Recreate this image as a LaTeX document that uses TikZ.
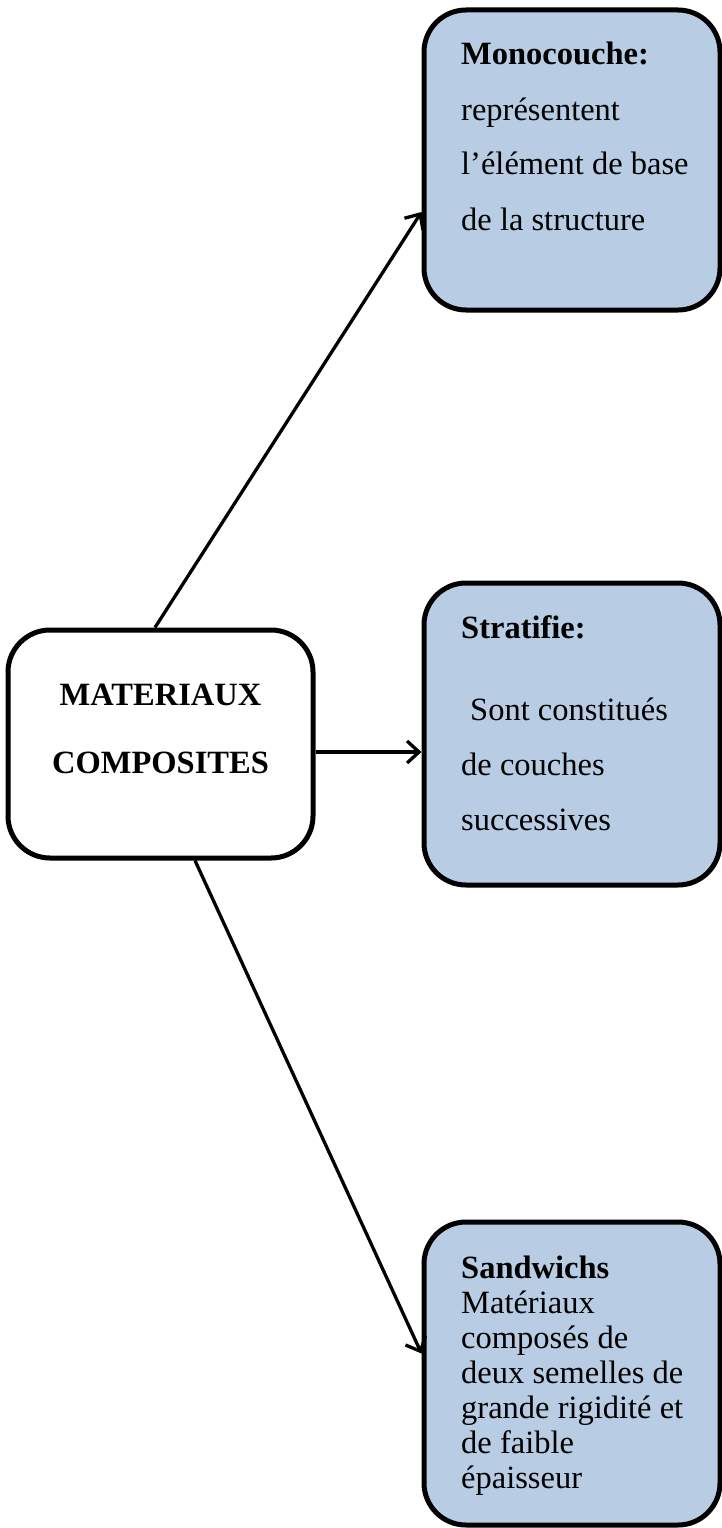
\documentclass[tikz,border=0pt]{standalone}
\usepackage{fontspec}
\setmainfont{Liberation Serif}
\usetikzlibrary{arrows.meta}
\definecolor{boxblue}{HTML}{B8CCE4}
\begin{document}
\begin{tikzpicture}[x=1pt,y=-1pt,
  panel/.style={draw, line width=5pt, rounded corners=42pt, inner sep=0pt},
  leaf/.style={panel, fill=boxblue, minimum width=296pt},
  link/.style={line width=3.3pt, -{Straight Barb[length=12pt,width=22pt,line width=3.3pt]}},
  body/.style={anchor=base west, inner sep=0pt}
]
\useasboundingbox (0,0) rectangle (722,1528);

% central box
\node[panel, fill=white, minimum width=305pt, minimum height=228pt] (mat) at (160.5,744) {};

% the three families
\node[leaf, minimum height=300pt] (mono)  at (572,160) {};
\node[leaf, minimum height=302pt] (strat) at (572,734) {};
\node[leaf, minimum height=303pt] (sand)  at (572,1373.5) {};

% box texts
\node[anchor=base, inner sep=0pt] (mattext) at (160.5,705)
  {\parbox[t]{300pt}{\centering\fontsize{32.5}{68}\selectfont
   \textbf{MATERIAUX}\\\textbf{COMPOSITES}}};

\node[body] (monotext) at (461,65)
  {\parbox[t]{258pt}{\raggedright\fontsize{32.5}{55}\selectfont
   \textbf{Monocouche:}\\représentent\\l’élément de base\\de la structure}};

\node[body] (strattext) at (461,638)
  {\parbox[t]{258pt}{\raggedright\fontsize{32.5}{55}\selectfont
   \textbf{Stratifie:}\\[27pt]\hspace*{9pt}Sont constitués\\de couches\\successives}};

\node[body] (sandtext) at (461,1278)
  {\parbox[t]{258pt}{\raggedright\fontsize{32.5}{35}\selectfont
   \textbf{Sandwichs}\\Matériaux\\composés de\\deux semelles de\\grande rigidité et\\de faible\\épaisseur}};

% connectors
\coordinate (fromtop) at ([xshift=-5.5pt]mat.north);
\coordinate (frommid) at ([yshift=-8pt]mat.east);
\coordinate (frombot) at ([xshift=34.5pt]mat.south);
\draw[link] (fromtop) -- ([yshift=-52pt]mono.west);
\draw[link] (frommid) -- (frommid -| strat.west);
\draw[link] (frombot) -- ([yshift=20pt]sand.west);
\end{tikzpicture}
\end{document}
